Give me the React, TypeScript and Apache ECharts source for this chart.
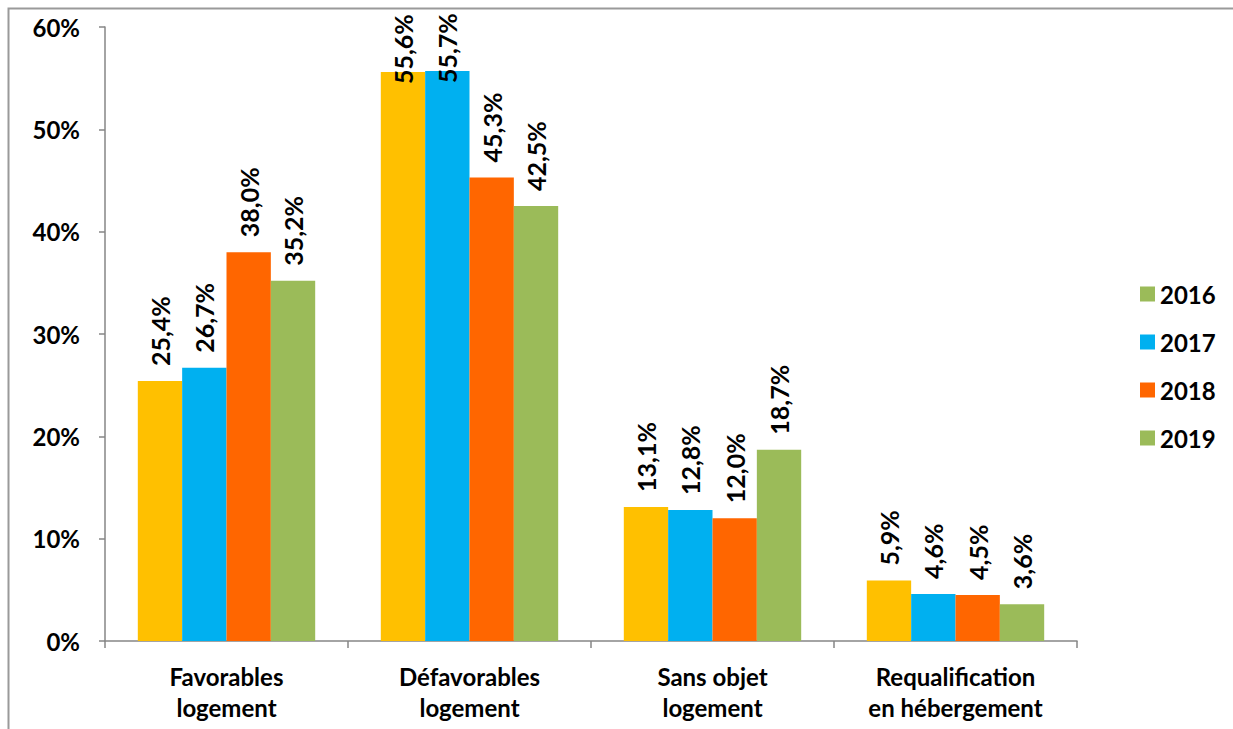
import React, { useEffect, useRef } from "react";
import * as echarts from "echarts";

const categories = [
  "Favorables\nlogement",
  "Défavorables\nlogement",
  "Sans objet\nlogement",
  "Requalification\nen hébergement",
];
const years = ["2016", "2017", "2018", "2019"];
const values2016 = [25.4, 55.6, 13.1, 5.9];
const values2017 = [26.7, 55.7, 12.8, 4.6];
const values2018 = [38.0, 45.3, 12.0, 4.5];
const values2019 = [35.2, 42.5, 18.7, 3.6];
const yTicks = { min: 0, max: 60, interval: 10 };

const colors = ["#FFC000", "#00B0F0", "#FF6600", "#9BBB59"];
const legendColors = ["#9BBB59", "#00B0F0", "#FF6600", "#9BBB59"];
const FONT = "Lato";

export default function App() {
  const ref = useRef<HTMLDivElement>(null);
  useEffect(() => {
    if (!ref.current) return;
    const chart = echarts.init(ref.current, undefined, { renderer: "svg" });
    const all = [values2016, values2017, values2018, values2019];
    const fmt = (v: number) => v.toFixed(1).replace(".", ",") + "%";
    const series = all.map((vals, i) => ({
      name: years[i],
      type: "bar",
      barGap: "0%",
      barCategoryGap: "27%",
      itemStyle: { color: colors[i] },
      data: vals.map((v) =>
        v > 50 ? { value: v, label: { distance: -12 } } : { value: v }
      ),
      label: {
        show: true,
        position: "top",
        rotate: 90,
        align: "left",
        verticalAlign: "middle",
        distance: 15,
        formatter: (p: any) => fmt(p.value),
        fontFamily: FONT,
        fontWeight: "bold",
        fontSize: 25,
        color: "#000",
      },
    }));
    chart.setOption({
      animation: false,
      backgroundColor: "#fff",
      graphic: [
        {
          type: "rect",
          shape: { x: 8.5, y: 8.5, width: 1400, height: 900 },
          style: { fill: "none", stroke: "#9a9a9a", lineWidth: 2 },
          silent: true,
        },
      ],
      grid: { left: 105, right: 156, top: 27, bottom: 88, containLabel: false },
      legend: {
        orient: "vertical",
        left: 1135,
        top: 277,
        itemWidth: 15,
        itemHeight: 15,
        itemGap: 24,
        icon: "rect",
        data: years.map((y, i) => ({ name: y, itemStyle: { color: legendColors[i] } })),
        textStyle: {
          fontFamily: FONT,
          fontWeight: "bold",
          fontSize: 24,
          color: "#000",
        },
      },
      xAxis: {
        type: "category",
        data: categories,
        axisLine: { lineStyle: { color: "#868686", width: 1.5 } },
        axisTick: { show: true, length: 7, lineStyle: { color: "#868686", width: 1.5 } },
        axisLabel: {
          interval: 0,
          margin: 20,
          lineHeight: 31,
          fontFamily: FONT,
          fontWeight: "bold",
          fontSize: 24,
          color: "#000",
        },
      },
      yAxis: {
        type: "value",
        min: yTicks.min,
        max: yTicks.max,
        interval: yTicks.interval,
        splitLine: { show: false },
        axisLine: { show: true, lineStyle: { color: "#868686", width: 1.5 } },
        axisTick: { show: true, length: 6, lineStyle: { color: "#868686", width: 1.5 } },
        axisLabel: {
          formatter: "{value}%",
          margin: 25,
          fontFamily: FONT,
          fontWeight: "bold",
          fontSize: 24,
          color: "#000",
        },
      },
      series,
    });
    return () => chart.dispose();
  }, []);
  return (
    <div
      ref={ref}
      style={{ position: "absolute", left: 0, top: 0, width: 1233, height: 729 }}
    />
  );
}
